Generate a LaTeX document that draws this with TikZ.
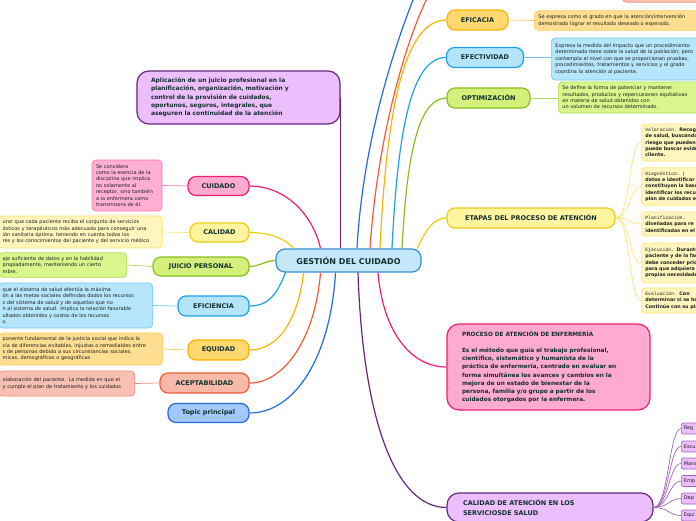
\documentclass[tikz,border=0pt]{standalone}
\usepackage{fontspec}
\setmainfont{DejaVu Sans}
\newfontfamily\monoft{Liberation Mono}
\usepackage{tikz}
\definecolor{LabelInk}{RGB}{18,48,46}
\definecolor{NoteInk}{RGB}{30,30,30}
\definecolor{CentreFill}{RGB}{196,232,250}
\definecolor{CentreLine}{RGB}{58,140,210}
\definecolor{PurpleFill}{RGB}{236,190,252}
\definecolor{PurpleLine}{RGB}{102,38,128}
\definecolor{PurpleTwig}{RGB}{160,100,190}
\definecolor{PinkFill}{RGB}{255,170,206}
\definecolor{PinkLine}{RGB}{240,30,120}
\definecolor{PinkNote}{RGB}{255,176,210}
\definecolor{PinkNoteLine}{RGB}{255,120,180}
\definecolor{YellowFill}{RGB}{255,244,160}
\definecolor{YellowLine}{RGB}{236,205,20}
\definecolor{YellowNote}{RGB}{255,246,190}
\definecolor{YellowNoteLine}{RGB}{255,228,120}
\definecolor{GreenFill}{RGB}{212,240,122}
\definecolor{GreenLine}{RGB}{136,190,30}
\definecolor{GreenNote}{RGB}{216,246,140}
\definecolor{GreenNoteLine}{RGB}{176,222,80}
\definecolor{SkyFill}{RGB}{180,228,250}
\definecolor{SkyLine}{RGB}{28,162,232}
\definecolor{SkyNote}{RGB}{182,230,252}
\definecolor{SkyNoteLine}{RGB}{110,200,245}
\definecolor{GoldFill}{RGB}{255,216,112}
\definecolor{GoldLine}{RGB}{255,178,0}
\definecolor{GoldNote}{RGB}{255,222,145}
\definecolor{GoldNoteLine}{RGB}{255,200,90}
\definecolor{SalmonFill}{RGB}{248,186,168}
\definecolor{SalmonLine}{RGB}{242,92,56}
\definecolor{SalmonNote}{RGB}{248,192,178}
\definecolor{SalmonNoteLine}{RGB}{240,140,120}
\definecolor{BlueFill}{RGB}{164,200,250}
\definecolor{BlueLine}{RGB}{38,106,226}

\begin{document}
\begin{tikzpicture}[x=1pt,y=-1pt,
  topic/.style={draw,rounded corners=8pt,line width=1.2pt,inner sep=0pt,minimum height=19pt,text=LabelInk,font=\bfseries\fontsize{6.5}{8}\selectfont},
  note/.style={draw,rounded corners=4pt,line width=0.7pt,inner sep=4pt,align=left,text=NoteInk,font=\fontsize{5}{6.4}\selectfont},
  bignote/.style={draw,rounded corners=12pt,line width=1.2pt,align=left,text=LabelInk},
  branch/.style={line width=1.2pt},
  twig/.style={line width=0.7pt}
]
\useasboundingbox (0,0) rectangle (696,520);
\fill[white] (0,0) rectangle (696,520);
\clip (0,0) rectangle (696,520);

\node[topic,fill=CentreFill,draw=CentreLine,minimum width=145pt,minimum height=23pt,rounded corners=9pt,font=\bfseries\fontsize{8}{10}\selectfont] (gc) at (348.5,260.5) {GESTIÓN DEL CUIDADO};

\node[bignote,fill=PurpleFill,draw=PurpleLine,minimum width=203pt,minimum height=53pt,text width=175pt,font=\bfseries\fontsize{6}{8.3}\selectfont] (apl) at (238.5,97.5) {Aplicación de un juicio profesional en la\\planificación, organización, motivación y\\control de la provisión de cuidados,\\oportunos, seguros, integrales, que\\aseguren la continuidad de la atención};

% left side
\node[topic,fill=PinkFill,draw=PinkLine,minimum width=61pt] (cuid) at (218.5,186) {CUIDADO};
\node[note,fill=PinkNote,draw=PinkNoteLine,text width=62pt,minimum height=51pt] (cuidtxt) at (127,185.5) {Se considera\\como la esencia de la\\disciplina que implica\\no solamente al\\receptor, sino también\\a la enfermera como\\transmisora de él.};
\node[topic,fill=YellowFill,draw=YellowLine,minimum width=59pt] (calid) at (219.5,232.5) {CALIDAD};
\node[note,fill=YellowNote,draw=YellowNoteLine,anchor=east,text width=156pt,minimum height=32pt] (calidtxt) at (163,232) {urar que cada paciente reciba el conjunto de servicios\\ósticos y terapéuticos más adecuado para conseguir una\\ión sanitaria óptima, teniendo en cuenta todos los\\res y los conocimientos del paciente y del servicio médico};
\node[topic,fill=GreenFill,draw=GreenLine,minimum width=96pt] (juic) at (201,266.5) {JUICIO PERSONAL};
\node[note,fill=GreenNote,draw=GreenNoteLine,anchor=east,text width=120pt,minimum height=24pt] (juictxt) at (127,265) {aje suficiente de datos y en la habilidad\\propiadamente, manteniendo un cierto\\mbre.};
\node[topic,fill=SkyFill,draw=SkyLine,minimum width=71pt,minimum height=20pt] (efic) at (213.5,306) {EFICIENCIA};
\node[note,fill=SkyNote,draw=SkyNoteLine,anchor=east,text width=146pt,minimum height=45pt] (efictxt) at (153,305.5) {que el sistema de salud efectúa la máxima\\ón a las metas sociales definidas dados los recursos\\s del sistema de salud y de aquellos que no\\n al sistema de salud. Implica la relación favorable\\ultados obtenidos y costos de los recursos\\s.};
\node[topic,fill=GoldFill,draw=GoldLine,minimum width=61pt,minimum height=20pt] (equi) at (218.5,350) {EQUIDAD};
\node[note,fill=GoldNote,draw=GoldNoteLine,anchor=east,text width=156pt,minimum height=32pt] (equitxt) at (163,349) {ponente fundamental de la justicia social que indica la\\cia de diferencias evitables, injustas o remediables entre\\s de personas debido a sus circunstancias sociales,\\micas, demográficas o geográficas};
\node[topic,fill=SalmonFill,draw=SalmonLine,minimum width=89pt,minimum height=20pt] (acep) at (204.5,383) {ACEPTABILIDAD};
\node[note,fill=SalmonNote,draw=SalmonNoteLine,anchor=east,text width=128pt,minimum height=25pt] (aceptxt) at (135,383.5) {olaboración del paciente. La medida en que el\\y cumple el plan de tratamiento y los cuidados};
\node[topic,fill=BlueFill,draw=BlueLine,minimum width=81pt] (topic) at (208.5,413) {Topic principal};

% right side
\node[note,fill=SalmonNote,draw=SalmonNoteLine,anchor=south west,minimum width=90pt,minimum height=30pt] (topsal) at (622,2.5) {};
\node[topic,fill=GoldFill,draw=GoldLine,minimum width=61pt,minimum height=20pt] (eficac) at (477.5,20) {EFICACIA};
\node[note,fill=GoldNote,draw=GoldNoteLine,anchor=west,text width=200pt,minimum height=19pt] (eficactxt) at (534,20.5) {Se expresa como el grado en que la atención/intervención\\demostrado lograr el resultado deseado o esperado.};
\node[topic,fill=SkyFill,draw=SkyLine,minimum width=77pt,minimum height=20pt] (efect) at (485,57.5) {EFECTIVIDAD};
\node[note,fill=SkyNote,draw=SkyNoteLine,anchor=west,text width=200pt,minimum height=42pt] (efecttxt) at (551,59) {Expresa la medida del impacto que un procedimiento\\determinado tiene sobre la salud de la población; pero\\contempla el nivel con que se proporcionan pruebas,\\procedimientos, tratamientos y servicios y el grado\\coordina la atención al paciente.};
\node[topic,fill=GreenFill,draw=GreenLine,minimum width=83pt,minimum height=20pt] (optim) at (488.5,98) {OPTIMIZACIÓN};
\node[note,fill=GreenNote,draw=GreenNoteLine,anchor=west,text width=200pt,minimum height=29pt] (optimtxt) at (558,97.5) {Se define la forma de potenciar y mantener\\resultados, productos y repercusiones equitativas\\en materia de salud obtenidos con\\un volumen de recursos determinado.};

\node[topic,fill=YellowFill,draw=YellowLine,minimum width=168pt,minimum height=20pt] (etap) at (531,218) {ETAPAS DEL PROCESO DE ATENCIÓN};
\node[note,fill=YellowNote,draw=YellowNoteLine,anchor=west,text width=90pt,minimum height=37pt,font=\bfseries\fontsize{4.8}{6.3}\selectfont] (valo) at (641,142.5) {{\mdseries\monoft Valoración.} Recoge\\de salud, buscando\\riesgo que pueden\\puede buscar evidencia\\cliente.};
\node[note,fill=YellowNote,draw=YellowNoteLine,anchor=west,text width=90pt,minimum height=37pt,font=\bfseries\fontsize{4.8}{6.3}\selectfont] (diag) at (641,186.5) {{\mdseries\monoft Diagnóstico. (}\\datos e identificar\\constituyen la base\\identificar los recursos\\plan de cuidados e};
\node[note,fill=YellowNote,draw=YellowNoteLine,anchor=west,text width=90pt,minimum height=24pt,font=\bfseries\fontsize{4.8}{6.3}\selectfont] (plani) at (641,224) {{\mdseries\monoft Planificación.}\\diseñadas para re\\identificadas en el};
\node[note,fill=YellowNote,draw=YellowNoteLine,anchor=west,text width=90pt,minimum height=40pt,font=\bfseries\fontsize{4.8}{6.3}\selectfont] (ejec) at (641,263) {{\mdseries\monoft Ejecución.} Durante\\paciente y de la familia\\debe conceder prioridad\\para que adquiera\\propias necesidades};
\node[note,fill=YellowNote,draw=YellowNoteLine,anchor=west,text width=90pt,minimum height=25pt,font=\bfseries\fontsize{4.8}{6.3}\selectfont] (evalu) at (641,300.5) {{\mdseries\monoft Evaluación.} Con\\determinar si se ha\\Continúe con su plan};

\node[bignote,fill=PinkFill,draw=PinkLine,minimum width=203pt,minimum height=86pt,text width=173pt,font=\bfseries\fontsize{5.8}{8.2}\selectfont] (pae) at (548.5,367) {PROCESO DE ATENCIÓN DE ENFERMERÍA\\[8pt]Es el método que guía el trabajo profesional,\\científico, sistemático y humanista de la\\práctica de enfermería, centrado en evaluar en\\forma simultánea los avances y cambios en la\\mejora de un estado de bienestar de la\\persona, familia y/o grupo a partir de los\\cuidados otorgados por la enfermera.};

\node[bignote,fill=PurpleFill,draw=PurpleLine,minimum width=206pt,minimum height=29pt,text width=174pt,font=\bfseries\fontsize{6.5}{9.2}\selectfont] (cas) at (550,507.5) {CALIDAD DE ATENCIÓN EN LOS\\SERVICIOSDE SALUD};
\foreach \name/\txt/\yy in {reg/Reg/428.5,escu/Escu/446.5,mana/Mana/463.5,emp/Emp/481,dep/Dep/498.5,equ/Equi/515.5}
  \node[note,fill=PurpleFill,draw=PurpleTwig,anchor=west,text width=40pt,minimum height=11pt,inner sep=2.5pt,rounded corners=2pt] (\name) at (681,\yy) {\txt};

% branches
\draw[branch,PurpleLine] (gc.north -| apl.east) -- (apl.east);
\draw[branch,PinkLine] ([xshift=-28pt]gc.north) .. controls +(-8,-35) and +(35,0) .. (cuid.east);
\draw[branch,YellowLine] ([xshift=-55pt]gc.north) .. controls +(-8,-10) and +(20,0) .. (calid.east);
\draw[branch,GreenLine] (gc.west) .. controls +(-10,0) and +(10,0) .. (juic.east);
\draw[branch,SkyLine] ([xshift=-63pt]gc.south) .. controls +(-8,20) and +(20,0) .. (efic.east);
\draw[branch,GoldLine] ([xshift=-45pt]gc.south) .. controls +(-5,45) and +(30,0) .. (equi.east);
\draw[branch,SalmonLine] ([xshift=-28pt]gc.south) .. controls +(-5,65) and +(35,0) .. (acep.east);
\draw[branch,BlueLine] ([xshift=-13pt]gc.south) .. controls +(-5,85) and +(45,0) .. (topic.east);
\coordinate (offblue) at (460,-90);
\coordinate (offred) at (460,-40);
\draw[branch,BlueLine] ([xshift=8.5pt]gc.north) .. controls +(10,-180) and +(-10,0) .. (offblue);
\draw[branch,SalmonLine] ([xshift=21.5pt]gc.north) .. controls +(10,-150) and +(-30,0) .. (offred);
\draw[branch,GoldLine] ([xshift=31.5pt]gc.north) .. controls +(7,-149) and +(-40,0) .. (eficac.west);
\draw[branch,SkyLine] ([xshift=43.5pt]gc.north) .. controls +(6,-125) and +(-33,0) .. (efect.west);
\draw[branch,GreenLine] ([xshift=53.5pt]gc.north) .. controls +(5,-98) and +(-27,0) .. (optim.west);
\draw[branch,YellowLine] ([xshift=68.5pt]gc.north) .. controls +(8,-15) and +(-15,0) .. (etap.west);
\draw[branch,PurpleLine] ([xshift=9.5pt]gc.south) .. controls +(5,150) and +(-50,0) .. (cas.west);
\draw[branch,PinkLine] ([xshift=29.5pt]gc.south) .. controls +(5,60) and +(-35,0) .. (pae.west);

% notes
\draw[twig,PinkNoteLine] (cuid.west) -- (cuidtxt.east);
\draw[twig,YellowNoteLine] (calid.west) -- (calidtxt.east);
\draw[twig,GreenNoteLine] (juic.west) -- (juictxt.east);
\draw[twig,SkyNoteLine] (efic.west) -- (efictxt.east);
\draw[twig,GoldNoteLine] (equi.west) -- (equitxt.east);
\draw[twig,SalmonNoteLine] (acep.west) -- (aceptxt.east);
\draw[twig,GoldNoteLine] (eficac.east) -- (eficactxt.west);
\draw[twig,SkyNoteLine] (efect.east) -- (efecttxt.west |- efect.east);
\draw[twig,GreenNoteLine] (optim.east) -- (optimtxt.west |- optim.east);
\foreach \sub in {valo,diag,plani,ejec,evalu}
  \draw[twig,YellowNoteLine] (etap.east) .. controls +(15,0) and +(-12,0) .. (\sub.west);
\foreach \sub in {reg,escu,mana,emp,dep,equ}
  \draw[twig,PurpleTwig] (cas.east) .. controls +(15,0) and +(-12,0) .. (\sub.west);
\end{tikzpicture}
\end{document}
